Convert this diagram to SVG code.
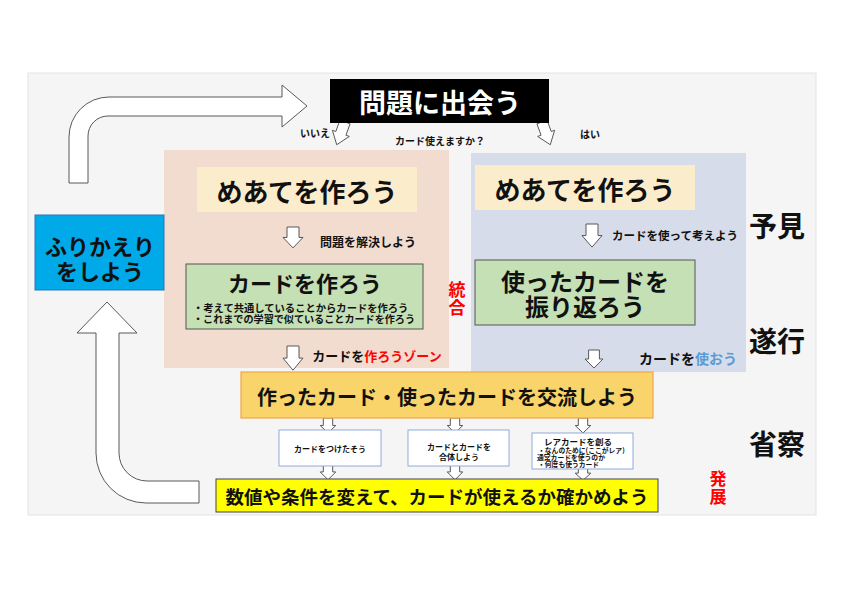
<svg xmlns="http://www.w3.org/2000/svg" width="850" height="600" viewBox="0 0 850 600">
<defs>
<style>
text{font-family:"Noto Sans CJK JP","Noto Sans CJK SC",sans-serif;font-weight:bold;dominant-baseline:central;text-anchor:middle;fill:#111}
.arr{fill:#fff;stroke:#595959;stroke-width:1}
.red{fill:#ff0000}
.blue{fill:#5b9bd5}
.wbox{fill:#fff;stroke:#8faadc;stroke-width:1}
.goal{fill:#fbeccb}
.green{fill:#c5e0b4;stroke:#555;stroke-width:1}
</style>
<path id="darr" d="M-6,0H6V11H10L0,22L-10,11H-6Z" vector-effect="non-scaling-stroke"/>
</defs>
<rect x="0" y="0" width="850" height="600" fill="#fff"/>
<rect x="28" y="73" width="788" height="442" fill="#f5f5f5" stroke="#e3e3e3" stroke-width="1"/>

<g id="zone-make">
<rect x="164" y="150" width="285" height="218" fill="#f2dccf"/>
</g>
<g id="zone-use">
<rect x="471" y="153" width="275" height="219" fill="#d6dcea"/>
</g>

<g id="connectors">
<path class="arr" d="M69,183V137A40,40 0 0 1 109,97H282V85L307,106L282,127V116H108A20,20 0 0 0 88,136V183Z"/>
<path class="arr" d="M199,503H146A50,50 0 0 1 96,453V333H77L107,302L137,333H119V453A28,28 0 0 0 147,481H199Z"/>
<use href="#darr" class="arr" transform="translate(345,122) rotate(20) scale(0.9,1.1)"/>
<use href="#darr" class="arr" transform="translate(542,122) rotate(-20) scale(0.9,1.1)"/>
<use href="#darr" class="arr" transform="translate(293,227) scale(1,0.95)"/>
<use href="#darr" class="arr" transform="translate(293,346) scale(1,1.1)"/>
<use href="#darr" class="arr" transform="translate(592,224) scale(1,1.05)"/>
<use href="#darr" class="arr" transform="translate(594,350) scale(0.9,0.82)"/>
<use href="#darr" class="arr" transform="translate(328,418) scale(0.78,0.68)"/>
<use href="#darr" class="arr" transform="translate(455,418) scale(0.78,0.68)"/>
<use href="#darr" class="arr" transform="translate(583,418) scale(0.78,0.68)"/>
<use href="#darr" class="arr" transform="translate(328,464) scale(0.78,0.72)"/>
<use href="#darr" class="arr" transform="translate(455,464) scale(0.78,0.72)"/>
<use href="#darr" class="arr" transform="translate(583,466) scale(0.78,0.65)"/>
</g>

<g id="title">
<rect x="330" y="79" width="219" height="44" fill="#000"/>
<text x="440" y="101" font-size="27" style="fill:#fff">問題に出会う</text>
</g>
<g id="question">
<text x="315" y="132" font-size="10">いいえ</text>
<text x="440" y="140" font-size="10">カード使えますか？</text>
<text x="590" y="133" font-size="10">はい</text>
</g>

<g id="furikaeri">
<rect x="35" y="215" width="129" height="75" fill="#00a9e8" stroke="#2e75b6" stroke-width="1"/>
<text x="100" y="245" font-size="22">ふりかえり</text>
<text x="100" y="270" font-size="22">をしよう</text>
</g>

<g id="goal-left">
<rect class="goal" x="197" y="167" width="220" height="45"/>
<text x="307" y="190" font-size="26">めあてを作ろう</text>
</g>
<text x="368" y="241" font-size="12">問題を解決しよう</text>
<g id="make-card">
<rect class="green" x="186" y="264" width="237" height="65"/>
<text x="305" y="282" font-size="22">カードを作ろう</text>
<text x="193" y="307" font-size="10.3" style="text-anchor:start">・考えて共通していることからカードを作ろう</text>
<text x="193" y="318" font-size="10.1" style="text-anchor:start">・これまでの学習で似ていることカードを作ろう</text>
</g>
<text x="377" y="355" font-size="13">カードを<tspan class="red">作ろうゾーン</tspan></text>
<g id="tougou">
<text x="457" y="288" font-size="17" class="red">統</text>
<text x="457" y="306" font-size="17" class="red">合</text>
</g>

<g id="goal-right">
<rect class="goal" x="475" y="165" width="220" height="45"/>
<text x="585" y="188" font-size="26">めあてを作ろう</text>
</g>
<text x="675" y="235" font-size="11.5">カードを使って考えよう</text>
<g id="review-card">
<rect class="green" x="475" y="260" width="220" height="65"/>
<text x="585" y="280" font-size="24">使ったカードを</text>
<text x="585" y="305" font-size="24">振り返ろう</text>
</g>
<text x="688" y="358" font-size="14">カードを<tspan class="blue">使おう</tspan></text>

<g id="stages">
<text x="777" y="225" font-size="28">予見</text>
<text x="777" y="340" font-size="28">遂行</text>
<text x="777" y="443" font-size="28">省察</text>
<text x="718" y="477" font-size="17" class="red">発</text>
<text x="718" y="495" font-size="17" class="red">展</text>
</g>

<g id="exchange">
<rect x="241" y="372" width="412" height="46" fill="#f8d46a" stroke="#f4a547" stroke-width="1.2"/>
<text x="447" y="396" font-size="20">作ったカード・使ったカードを交流しよう</text>
</g>

<g id="add-card">
<rect class="wbox" x="279" y="430" width="102" height="36"/>
<text x="330" y="448" font-size="8">カードをつけたそう</text>
</g>
<g id="combine-card">
<rect class="wbox" x="408" y="430" width="101" height="36"/>
<text x="459" y="446" font-size="8">カードとカードを</text>
<text x="459" y="456" font-size="8">合体しよう</text>
</g>
<g id="rare-card">
<rect class="wbox" x="532" y="433" width="101" height="36"/>
<text x="578" y="441" font-size="8.5">レアカードを創る</text>
<text x="538" y="449.5" font-size="6.8" style="text-anchor:start">・なんのために(ここがレア)</text>
<text x="537" y="456.5" font-size="6.8" style="text-anchor:start">通常カードを使うのか</text>
<text x="538" y="463.5" font-size="6.8" style="text-anchor:start">・何度も使うカード</text>
</g>

<g id="verify">
<rect x="216" y="479" width="442" height="33" fill="#ffff00" stroke="#444" stroke-width="1"/>
<text x="437" y="496" font-size="18.5">数値や条件を変えて、カードが使えるか確かめよう</text>
</g>
</svg>
